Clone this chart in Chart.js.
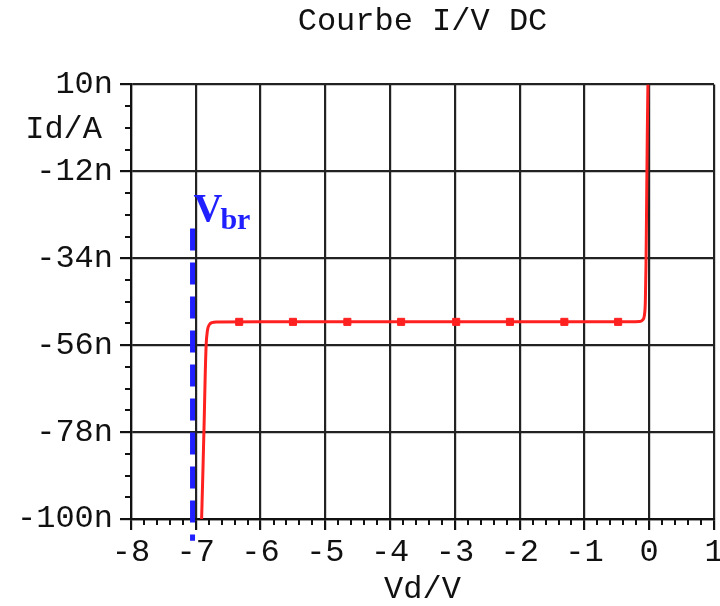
<!DOCTYPE html>
<html>
<head>
<meta charset="utf-8">
<script src="https://cdn.jsdelivr.net/npm/chart.js@4.4.0/dist/chart.umd.min.js"></script>
<style>
  html, body { margin: 0; padding: 0; background: #fff; overflow: hidden; }
  #wrap { position: relative; width: 720px; height: 606px; }
</style>
</head>
<body>
<div id="wrap"><canvas id="c" width="720" height="606"></canvas></div>
<script>
// ---- data ----
const chartTitle = 'Courbe I/V DC';
const xAxisTitle = 'Vd/V';
const yAxisTitle = 'Id/A';
const xTicks = [-8, -7, -6, -5, -4, -3, -2, -1, 0, 1];
const yTicks = [-100, -78, -56, -34, -12, 10];
const yTickLabels = ['-100n', '-78n', '-56n', '-34n', '-12n', '10n'];

// I/V curve (Vd in V, Id in nA)
const curveVd = [-6.91, -6.89, -6.87, -6.855, -6.84, -6.82, -6.79, -6.75, -6.68, -6.0, -5.0, -4.0, -3.0, -2.0, -1.0, -0.30, -0.15, -0.10, -0.075, -0.06, -0.05, -0.04, -0.03, -0.02];
const curveId = [-100, -88, -75, -64, -56, -52.3, -50.8, -50.3, -50.15, -50.1, -50.1, -50.1, -50.1, -50.1, -50.1, -50.1, -50.0, -49.6, -48.5, -45, -36, -20, -3, 10];

// square markers on the curve
const markerVd = [-6.33, -5.50, -4.66, -3.83, -2.98, -2.15, -1.31, -0.48];
const markerId = [-50.1, -50.1, -50.1, -50.1, -50.1, -50.1, -50.1, -50.1];

// breakdown voltage marker line
const vbrVd = [-7.05, -7.05];
const vbrId = [-26.5, -105.5];
const vbrLabelMain = 'V';
const vbrLabelSub = 'br';

const monoFont = "'Liberation Mono', 'Courier New', monospace";

const curveData = curveVd.map((v, i) => ({ x: v, y: curveId[i] }));
const markerData = markerVd.map((v, i) => ({ x: v, y: markerId[i] }));
const vbrData = vbrVd.map((v, i) => ({ x: v, y: vbrId[i] }));

const extrasPlugin = {
  id: 'extras',
  afterDraw(chart) {
    const ctx = chart.ctx;
    const xs = chart.scales.x, ys = chart.scales.y;
    const ca = chart.chartArea;
    ctx.save();
    // minor ticks
    ctx.strokeStyle = '#111';
    ctx.lineWidth = 2;
    ctx.beginPath();
    for (let k = 0; k <= 45; k++) {
      const v = -8 + k * 0.2;
      if (k % 5 === 0) continue;
      const px = Math.round(xs.getPixelForValue(v));
      ctx.moveTo(px, ca.bottom);
      ctx.lineTo(px, ca.bottom + 6);
    }
    for (let k = 0; k <= 20; k++) {
      if (k % 4 === 0) continue;
      const v = -100 + k * 5.5;
      const py = Math.round(ys.getPixelForValue(v));
      ctx.moveTo(ca.left - 6, py);
      ctx.lineTo(ca.left, py);
    }
    ctx.stroke();

    // y axis title
    ctx.fillStyle = '#111';
    ctx.font = "32px " + monoFont;
    ctx.textAlign = 'right';
    ctx.textBaseline = 'middle';
    ctx.fillText(yAxisTitle, ca.left - 29, ys.getPixelForValue(-1.5));

    // Vbr label
    const lx = xs.getPixelForValue(vbrVd[0]);
    const ly = ys.getPixelForValue(vbrId[0]);
    ctx.fillStyle = '#1f1fff';
    ctx.textAlign = 'left';
    ctx.textBaseline = 'alphabetic';
    ctx.font = "bold 40px 'Liberation Serif', 'Times New Roman', serif";
    ctx.fillText(vbrLabelMain, lx + 1, ly - 8);
    const w = ctx.measureText(vbrLabelMain).width;
    ctx.font = "bold 30px 'Liberation Serif', 'Times New Roman', serif";
    ctx.fillText(vbrLabelSub, lx + 1 + w - 2, ly);
    ctx.restore();
  }
};

new Chart(document.getElementById('c'), {
  type: 'scatter',
  data: {
    datasets: [
      {
        data: curveData,
        showLine: true,
        borderColor: '#ff2020',
        backgroundColor: '#ff2020',
        borderWidth: 3,
        pointRadius: 0,
        cubicInterpolationMode: 'monotone'
      },
      {
        data: markerData,
        showLine: false,
        pointStyle: 'rect',
        pointRadius: 5,
        backgroundColor: '#ff2020',
        borderColor: '#ff2020',
        borderWidth: 1
      },
      {
        data: vbrData,
        showLine: true,
        borderColor: '#1f1fff',
        borderWidth: 5,
        borderDash: [22, 12],
        pointRadius: 0,
        clip: false
      }
    ]
  },
  options: {
    responsive: false,
    animation: false,
    layout: { padding: { left: 0, right: 0, top: 0, bottom: 0 } },
    plugins: {
      legend: { display: false },
      tooltip: { enabled: false },
      title: {
        display: true,
        text: chartTitle,
        fullSize: false,
        color: '#111',
        font: { family: monoFont, size: 32, weight: 'normal' },
        padding: { top: 2, bottom: 44 }
      }
    },
    scales: {
      x: {
        type: 'linear',
        min: -8,
        max: 1,
        afterBuildTicks: s => { s.ticks = xTicks.map(v => ({ value: v })); },
        afterFit: s => { s.height = 87; s.paddingRight = 6; s.paddingLeft = 0; },
        ticks: {
          color: '#111',
          font: { family: monoFont, size: 32 },
          padding: 3,
          maxRotation: 0,
          autoSkip: false,
          callback: v => String(v)
        },
        grid: { color: '#222', lineWidth: 2.2, tickLength: 11, tickColor: '#111' },
        border: { color: '#111', width: 2.2 },
        title: {
          display: true,
          text: xAxisTitle,
          color: '#111',
          font: { family: monoFont, size: 32, lineHeight: 1.0 },
          padding: { top: 0, bottom: 0 }
        }
      },
      y: {
        type: 'linear',
        min: -100,
        max: 10,
        afterBuildTicks: s => { s.ticks = yTicks.map(v => ({ value: v })); },
        afterFit: s => { s.width = 131; },
        ticks: {
          color: '#111',
          font: { family: monoFont, size: 32 },
          padding: 7,
          autoSkip: false,
          callback: v => yTickLabels[yTicks.indexOf(v)]
        },
        grid: { color: '#222', lineWidth: 2.2, tickLength: 11, tickColor: '#111' },
        border: { color: '#111', width: 2.2 }
      }
    }
  },
  plugins: [extrasPlugin]
});
</script>
</body>
</html>
